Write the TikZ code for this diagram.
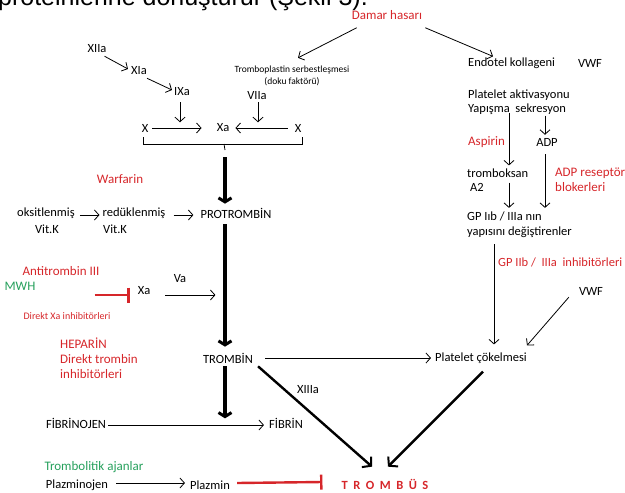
\documentclass[tikz,border=0pt]{standalone}
\usepackage{fontspec}
\setmainfont{Carlito}
\newfontfamily\titlefont{Liberation Sans}
\usetikzlibrary{arrows.meta,calc}
\definecolor{hred}{RGB}{214,38,42}
\definecolor{hgreen}{RGB}{38,160,92}
\begin{document}
\begin{tikzpicture}[x=1pt,y=-1pt,
 txt/.style={inner sep=0pt,font=\fontsize{12.5}{15}\selectfont},
 sml/.style={inner sep=0pt,font=\fontsize{9.5}{12}\selectfont},
 rtxt/.style={inner sep=0pt,text=hred,font=\fontsize{13}{15}\selectfont},
 gtxt/.style={inner sep=0pt,text=hgreen,font=\fontsize{13}{15}\selectfont},
 arr/.style={line width=0.8pt,-{Straight Barb[length=4.5pt,width=10pt]}},
 plainln/.style={line width=0.8pt},
 fat/.style={line width=4pt,-{Straight Barb[length=4pt,width=13pt,line width=3pt]}},
 diag/.style={line width=2.4pt,-{Straight Barb[length=6pt,width=14pt,line width=2pt]}},
 inhib/.style={draw=hred,line width=2.4pt,-{Bar[width=15pt,line width=2.4pt]}},
]
\useasboundingbox (0,0) rectangle (625,493);
\begin{scope}
\clip (0,0) rectangle (625,493);
\node[anchor=base east,inner sep=0pt,font=\titlefont\fontsize{25}{30}\selectfont] (title) at (368,5) {proteinlerine dönüştürür (Şekil 3).};
\end{scope}

% nodes
\node[rtxt] (damar) at (387,15) {Damar hasarı};
\node[sml,align=center] (tp) at (292,76) {Tromboplastin serbestleşmesi\\(doku faktörü)};
\node[txt,anchor=west] (endo) at (468,63) {Endotel kollageni};
\node[txt] (vwf1) at (590,63) {VWF};
\node[txt,anchor=west] (plakt) at (468,95) {Platelet aktivasyonu};
\node[txt,anchor=west] (yapis) at (468,109) {Yapışma\ \ sekresyon};
\node[rtxt,anchor=west] (aspirin) at (468,142) {Aspirin};
\node[txt] (adp) at (547,142) {ADP};
\node[txt,anchor=west] (trombok) at (467,173) {tromboksan};
\node[txt,anchor=west] (a2) at (470,187) {A2};
\node[rtxt,anchor=west,align=left] (adprec) at (555,180) {ADP reseptör\\blokerleri};
\node[txt,anchor=west,align=left] (gp) at (467,225) {GP Iıb / IIIa nın\\yapısını değiştirenler};
\node[rtxt,anchor=west,font=\fontsize{12.5}{15}\selectfont] (gpinh) at (498,262) {GP IIb /\ \ IIIa\ \ inhibitörleri};
\node[txt] (vwf2) at (591,291) {VWF};
\node[txt] (platc) at (481,358) {Platelet çökelmesi};

\node[txt] (xiia) at (97,49) {XIIa};
\node[txt] (xia) at (139,71) {XIa};
\node[txt] (ixa) at (182,92) {IXa};
\node[txt] (viia) at (257,96) {VIIa};
\node[txt] (xl) at (145,128) {X};
\node[txt] (xa) at (223,128) {Xa};
\node[txt] (xr) at (298,128) {X};

\node[rtxt] (warf) at (120,179) {Warfarin};
\node[txt] (oksit) at (46,213) {oksitlenmiş};
\node[txt] (vk1) at (47,229) {Vit.K};
\node[txt] (redu) at (134,213) {redüklenmiş};
\node[txt,anchor=west] (vk2) at (103,229) {Vit.K};
\node[txt] (protr) at (236,213) {PROTROMBİN};

\node[rtxt] (anti) at (61,271) {Antitrombin III};
\node[gtxt] (mwh) at (20,286) {MWH};
\node[txt] (xa2) at (144,291) {Xa};
\node[txt] (va) at (180,279) {Va};
\node[rtxt,font=\fontsize{10}{12}\selectfont] (dxa) at (67,316) {Direkt Xa inhibitörleri};
\node[rtxt,anchor=west,align=left] (hep) at (60,358) {HEPARİN\\Direkt trombin\\inhibitörleri};
\node[txt] (trombin) at (228,358) {TROMBİN};
\node[txt] (xiiia) at (308,390) {XIIIa};
\node[txt] (fibrinojen) at (76,423) {FİBRİNOJEN};
\node[txt] (fibrin) at (286,423) {FİBRİN};
\node[gtxt] (tromlit) at (94,467) {Trombolitik ajanlar};
\node[txt] (plazminojen) at (77,485) {Plazminojen};
\node[txt] (plazmin) at (210,485) {Plazmin};
\node[rtxt,font=\bfseries\fontsize{12.5}{15}\selectfont] (trombus) at (385,484) {T\hspace{5.5pt}R\hspace{5.5pt}O\hspace{5.5pt}M\hspace{5.5pt}B\hspace{5.5pt}Ü\hspace{5.5pt}S};

% connectors
\draw[arr] ($(damar.south west)+(5,8)$) -- ($(tp.north)+(6,-8)$);
\draw[arr] ($(damar.south east)+(3,8)$) -- ($(endo.north west)+(25,-1)$);
\draw[arr] ($(xiia.south east)+(-2,3)$) -- ($(xia.west)+(-3,-2)$);
\draw[arr] ($(xia.south east)+(0,3)$) -- ($(ixa.west)+(-2,-2)$);
\draw[arr] ($(ixa.south)+(-2,6)$) -- ($(ixa.south)+(-2,26)$);
\draw[arr] ($(viia.south)+(1,2)$) -- ($(viia.south)+(1,22)$);
\draw[arr] ($(xl.east)+(4,0)$) -- ($(xa.west)+(-15,0)$);
\draw[arr] ($(xr.west)+(-7,0)$) -- ($(xa.east)+(6,0)$);
\draw[plainln] (143,137) -- (143,144) -- (302,144) -- (302,137);
\coordinate (bt) at (225,150);
\draw[plainln] (224,144) -- (bt);
\draw[fat] ($(bt)+(0,7)$) -- ($(protr.north)+(-11,-4)$);
\draw[fat] ($(protr.south)+(-11,6)$) -- ($(trombin.north)+(-3,-6)$);
\draw[fat] ($(trombin.south)+(-3,3)$) -- ($(trombin.south)+(-3,55)$);
\draw[arr] ($(oksit.east)+(5,2)$) -- ($(redu.west)+(-3,2)$);
\draw[arr] ($(redu.east)+(8,2)$) -- ($(protr.west)+(-7,2)$);
\draw[inhib] ($(xa2.west)+(-43,4)$) -- ($(xa2.west)+(-8,4)$);
\draw[arr] ($(xa2.east)+(15,4)$) -- ($(xa2.east)+(65,4)$);
\draw[arr] ($(trombin.east)+(12,0)$) -- ($(platc.west)+(-4,0)$);
\draw[arr] ($(fibrinojen.east)+(2,2)$) -- ($(fibrin.west)+(-5,2)$);
\draw[diag] ($(trombin.south east)+(5,3)$) -- ($(trombus.north)+(-13,-12)$);
\draw[diag] ($(platc.south)+(2,8)$) -- ($(trombus.north)+(3,-12)$);
\draw[arr] ($(gp.south west)+(27,6)$) -- ($(platc.north)+(13,-8)$);
\draw[arr] ($(vwf2.south west)+(-10,2)$) -- ($(platc.north east)+(0,-7)$);
\draw[arr] ($(yapis.south west)+(41,-2)$) -- ($(trombok.north west)+(42,-3)$);
\draw[arr] ($(yapis.south west)+(77,1)$) -- ($(adp.north)+(-2,-3)$);
\draw[arr] ($(adp.south)+(-2,8)$) -- ($(gp.north west)+(78,-4)$);
\draw[arr] ($(trombok.south west)+(42,5)$) -- ($(gp.north west)+(42,-4)$);
\draw[arr] ($(plazminojen.east)+(8,-2)$) -- ($(plazmin.west)+(-5,-2)$);
\draw[inhib] ($(plazmin.east)+(7,-2)$) -- ($(trombus.west)+(-19,-2)$);
\end{tikzpicture}
\end{document}
